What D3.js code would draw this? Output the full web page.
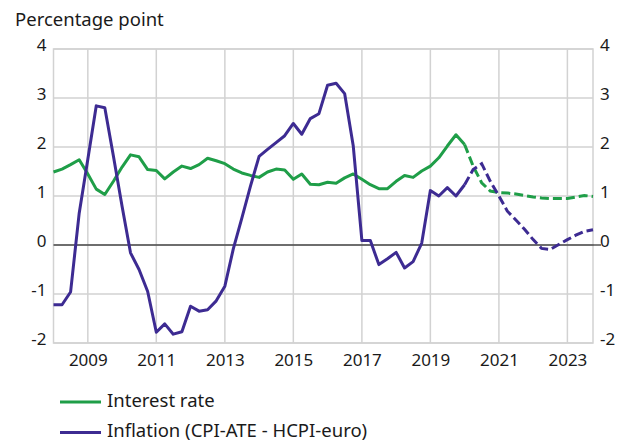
<!DOCTYPE html>
<html><head><meta charset="utf-8">
<script src="https://cdn.jsdelivr.net/npm/d3@7"></script>
<style>
html,body{margin:0;padding:0;background:#fff;}
svg text{font-family:"Noto Sans","Open Sans",sans-serif;fill:#1a1a1a;}
</style></head>
<body>
<svg id="chart" width="629" height="441"></svg>
<script>
// Quarterly data, 2008Q1 - 2023Q4
const startYear = 2008;
const forecastStart = 48; // index of 2020Q1, dashed from here
const interestRate = [1.49,1.55,1.64,1.74,1.45,1.14,1.03,1.30,1.59,1.84,1.80,1.54,1.52,1.35,1.49,1.61,
  1.56,1.64,1.77,1.72,1.66,1.55,1.47,1.42,1.38,1.49,1.55,1.53,1.34,1.45,1.24,1.23,
  1.28,1.26,1.37,1.45,1.34,1.23,1.15,1.15,1.30,1.42,1.38,1.51,1.61,1.78,2.02,2.25,
  2.05,1.61,1.27,1.10,1.07,1.06,1.04,1.01,0.98,0.96,0.95,0.95,0.95,0.98,1.01,0.99];
const inflation = [-1.22,-1.22,-0.96,0.65,1.75,2.84,2.80,1.81,0.79,-0.16,-0.50,-0.95,-1.78,-1.61,-1.82,-1.77,
  -1.25,-1.35,-1.32,-1.14,-0.84,-0.08,0.55,1.20,1.81,1.95,2.09,2.23,2.48,2.26,2.58,2.68,
  3.26,3.30,3.09,2.02,0.09,0.09,-0.40,-0.28,-0.15,-0.47,-0.34,0.04,1.11,1.00,1.17,1.00,
  1.23,1.54,1.66,1.30,1.00,0.69,0.51,0.32,0.11,-0.07,-0.09,0.01,0.11,0.20,0.28,0.31];
const tickYears = [2009,2011,2013,2015,2017,2019,2021,2023];
const yTicks = [-2,-1,0,1,2,3,4];
const seriesNames = ["Interest rate","Inflation (CPI-ATE - HCPI-euro)"];
const seriesColors = ["#1f9e48","#3d2b92"];

const svg = d3.select("#chart");
const L = 53.5, R = 593, T = 49, B = 343;
const dates = interestRate.map((_, i) => new Date(startYear, 3 * i, 1));
const x = d3.scaleTime().domain([dates[0], dates[dates.length - 1]]).range([L, R]);
const y = d3.scaleLinear().domain([-2, 4]).range([B, T]);

const grid = svg.append("g");
grid.selectAll("line.h").data(yTicks).join("line")
  .attr("x1", L).attr("x2", R).attr("y1", d => y(d)).attr("y2", d => y(d))
  .attr("stroke", "#d2d2d2").attr("stroke-width", 1.5);
grid.selectAll("line.v").data(tickYears).join("line")
  .attr("x1", d => x(new Date(d, 0, 1))).attr("x2", d => x(new Date(d, 0, 1)))
  .attr("y1", T).attr("y2", B)
  .attr("stroke", "#d2d2d2").attr("stroke-width", 1.5);
grid.append("rect").attr("x", L).attr("y", T).attr("width", R - L).attr("height", B - T)
  .attr("fill", "none").attr("stroke", "#d2d2d2").attr("stroke-width", 1.5);

// Axes (text only)
const fmt = d => String(d);
const leftAxis = svg.append("g").attr("transform", `translate(${L},0)`)
  .call(d3.axisLeft(y).tickValues(yTicks).tickSize(0).tickPadding(7).tickFormat(fmt));
const rightAxis = svg.append("g").attr("transform", `translate(${R},0)`)
  .call(d3.axisRight(y).tickValues(yTicks).tickSize(0).tickPadding(7).tickFormat(fmt));
const bottomAxis = svg.append("g").attr("transform", `translate(0,${B})`)
  .call(d3.axisBottom(x).tickValues(tickYears.map(yr => new Date(yr, 0, 1))).tickSize(0).tickPadding(11)
    .tickFormat(d3.timeFormat("%Y")));
[leftAxis, rightAxis, bottomAxis].forEach(a => {
  a.select(".domain").remove();
  a.selectAll("text").attr("font-size", 17).attr("fill", "#1a1a1a")
    .attr("font-family", '"Noto Sans","Open Sans",sans-serif');
});
leftAxis.selectAll("text").attr("dy", "0.1em");
rightAxis.selectAll("text").attr("dy", "0.1em");

// zero line
svg.append("line").attr("x1", L).attr("x2", R + 8).attr("y1", y(0)).attr("y2", y(0))
  .attr("stroke", "#000").attr("stroke-width", 1.2);

const line = d3.line().x(d => x(d.date)).y(d => y(d.v));
[interestRate, inflation].forEach((arr, k) => {
  const pts = arr.map((v, i) => ({date: dates[i], v}));
  svg.append("path").datum(pts.slice(0, forecastStart + 1)).attr("d", line)
    .attr("fill", "none").attr("stroke", seriesColors[k]).attr("stroke-width", 3)
    .attr("stroke-linejoin", "round");
  svg.append("path").datum(pts.slice(forecastStart)).attr("d", line)
    .attr("fill", "none").attr("stroke", seriesColors[k]).attr("stroke-width", 3)
    .attr("stroke-dasharray", "9,4");
});

svg.append("text").attr("x", 15).attr("y", 26).attr("font-size", 18.5).text("Percentage point");

const leg = svg.append("g");
seriesNames.forEach((n, k) => {
  const yy = 402 + k * 30.5;
  leg.append("line").attr("x1", 60).attr("x2", 101).attr("y1", yy).attr("y2", yy)
    .attr("stroke", seriesColors[k]).attr("stroke-width", 3);
  leg.append("text").attr("x", 107).attr("y", yy + 4.5).attr("font-size", 18.5).text(n);
});
</script>
</body></html>
